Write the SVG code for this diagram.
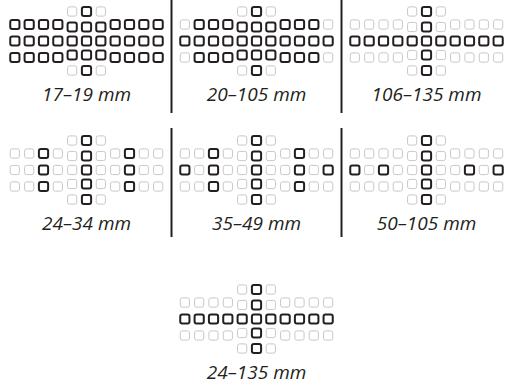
<svg xmlns="http://www.w3.org/2000/svg" width="510" height="385" viewBox="0 0 510 385">
<style>
.d{fill:none;stroke:#231f20;stroke-width:2}
.l{fill:none;stroke:#c8c8c8;stroke-width:1}
.t{font-family:"Open Sans","Liberation Sans",sans-serif;font-style:italic;font-size:19px;fill:#231f20;text-anchor:middle}
.sep{stroke:#231f20;stroke-width:2}
</style>
<defs>
<rect id="c" x="-4.6" y="-4.6" width="9.2" height="9.2" rx="2"/>
</defs>
<rect width="510" height="385" fill="#fff"/>
<g id="connectors">
<line class="sep" x1="171.5" y1="0" x2="171.5" y2="113"/>
<line class="sep" x1="341.5" y1="0" x2="341.5" y2="113"/>
<line class="sep" x1="171.5" y1="128" x2="171.5" y2="237"/>
<line class="sep" x1="341.5" y1="128" x2="341.5" y2="237"/>
</g>
<g id="p17-19" transform="translate(86.5,41)">
<use href="#c" class="l" x="-14.33" y="-29.5"/><use href="#c" class="d" x="0" y="-29.5"/><use href="#c" class="l" x="14.33" y="-29.5"/>
<use href="#c" class="d" x="-71.65" y="-16.5"/><use href="#c" class="d" x="-57.32" y="-16.5"/><use href="#c" class="d" x="-42.99" y="-16.5"/><use href="#c" class="d" x="-28.66" y="-16.5"/><use href="#c" class="d" x="-14.33" y="-14"/><use href="#c" class="d" x="0" y="-14"/><use href="#c" class="d" x="14.33" y="-14"/><use href="#c" class="d" x="28.66" y="-16.5"/><use href="#c" class="d" x="42.99" y="-16.5"/><use href="#c" class="d" x="57.32" y="-16.5"/><use href="#c" class="d" x="71.65" y="-16.5"/>
<use href="#c" class="d" x="-71.65" y="0"/><use href="#c" class="d" x="-57.32" y="0"/><use href="#c" class="d" x="-42.99" y="0"/><use href="#c" class="d" x="-28.66" y="0"/><use href="#c" class="d" x="-14.33" y="0"/><use href="#c" class="d" x="0" y="0"/><use href="#c" class="d" x="14.33" y="0"/><use href="#c" class="d" x="28.66" y="0"/><use href="#c" class="d" x="42.99" y="0"/><use href="#c" class="d" x="57.32" y="0"/><use href="#c" class="d" x="71.65" y="0"/>
<use href="#c" class="d" x="-71.65" y="16.5"/><use href="#c" class="d" x="-57.32" y="16.5"/><use href="#c" class="d" x="-42.99" y="16.5"/><use href="#c" class="d" x="-28.66" y="16.5"/><use href="#c" class="d" x="-14.33" y="14"/><use href="#c" class="d" x="0" y="14"/><use href="#c" class="d" x="14.33" y="14"/><use href="#c" class="d" x="28.66" y="16.5"/><use href="#c" class="d" x="42.99" y="16.5"/><use href="#c" class="d" x="57.32" y="16.5"/><use href="#c" class="d" x="71.65" y="16.5"/>
<use href="#c" class="l" x="-14.33" y="29.5"/><use href="#c" class="d" x="0" y="29.5"/><use href="#c" class="l" x="14.33" y="29.5"/>
<text class="t" x="0" y="60">17–19 mm</text>
</g>
<g id="p20-105" transform="translate(256.5,41)">
<use href="#c" class="l" x="-14.33" y="-29.5"/><use href="#c" class="d" x="0" y="-29.5"/><use href="#c" class="l" x="14.33" y="-29.5"/>
<use href="#c" class="l" x="-71.65" y="-16.5"/><use href="#c" class="d" x="-57.32" y="-16.5"/><use href="#c" class="d" x="-42.99" y="-16.5"/><use href="#c" class="d" x="-28.66" y="-16.5"/><use href="#c" class="d" x="-14.33" y="-14"/><use href="#c" class="d" x="0" y="-14"/><use href="#c" class="d" x="14.33" y="-14"/><use href="#c" class="d" x="28.66" y="-16.5"/><use href="#c" class="d" x="42.99" y="-16.5"/><use href="#c" class="d" x="57.32" y="-16.5"/><use href="#c" class="l" x="71.65" y="-16.5"/>
<use href="#c" class="d" x="-71.65" y="0"/><use href="#c" class="d" x="-57.32" y="0"/><use href="#c" class="d" x="-42.99" y="0"/><use href="#c" class="d" x="-28.66" y="0"/><use href="#c" class="d" x="-14.33" y="0"/><use href="#c" class="d" x="0" y="0"/><use href="#c" class="d" x="14.33" y="0"/><use href="#c" class="d" x="28.66" y="0"/><use href="#c" class="d" x="42.99" y="0"/><use href="#c" class="d" x="57.32" y="0"/><use href="#c" class="d" x="71.65" y="0"/>
<use href="#c" class="l" x="-71.65" y="16.5"/><use href="#c" class="d" x="-57.32" y="16.5"/><use href="#c" class="d" x="-42.99" y="16.5"/><use href="#c" class="d" x="-28.66" y="16.5"/><use href="#c" class="d" x="-14.33" y="14"/><use href="#c" class="d" x="0" y="14"/><use href="#c" class="d" x="14.33" y="14"/><use href="#c" class="d" x="28.66" y="16.5"/><use href="#c" class="d" x="42.99" y="16.5"/><use href="#c" class="d" x="57.32" y="16.5"/><use href="#c" class="l" x="71.65" y="16.5"/>
<use href="#c" class="l" x="-14.33" y="29.5"/><use href="#c" class="d" x="0" y="29.5"/><use href="#c" class="l" x="14.33" y="29.5"/>
<text class="t" x="0" y="60">20–105 mm</text>
</g>
<g id="p106-135" transform="translate(426.5,41)">
<use href="#c" class="l" x="-14.33" y="-29.5"/><use href="#c" class="d" x="0" y="-29.5"/><use href="#c" class="l" x="14.33" y="-29.5"/>
<use href="#c" class="l" x="-71.65" y="-16.5"/><use href="#c" class="l" x="-57.32" y="-16.5"/><use href="#c" class="l" x="-42.99" y="-16.5"/><use href="#c" class="l" x="-28.66" y="-16.5"/><use href="#c" class="l" x="-14.33" y="-14"/><use href="#c" class="d" x="0" y="-14"/><use href="#c" class="l" x="14.33" y="-14"/><use href="#c" class="l" x="28.66" y="-16.5"/><use href="#c" class="l" x="42.99" y="-16.5"/><use href="#c" class="l" x="57.32" y="-16.5"/><use href="#c" class="l" x="71.65" y="-16.5"/>
<use href="#c" class="d" x="-71.65" y="0"/><use href="#c" class="d" x="-57.32" y="0"/><use href="#c" class="d" x="-42.99" y="0"/><use href="#c" class="d" x="-28.66" y="0"/><use href="#c" class="d" x="-14.33" y="0"/><use href="#c" class="d" x="0" y="0"/><use href="#c" class="d" x="14.33" y="0"/><use href="#c" class="d" x="28.66" y="0"/><use href="#c" class="d" x="42.99" y="0"/><use href="#c" class="d" x="57.32" y="0"/><use href="#c" class="d" x="71.65" y="0"/>
<use href="#c" class="l" x="-71.65" y="16.5"/><use href="#c" class="l" x="-57.32" y="16.5"/><use href="#c" class="l" x="-42.99" y="16.5"/><use href="#c" class="l" x="-28.66" y="16.5"/><use href="#c" class="l" x="-14.33" y="14"/><use href="#c" class="d" x="0" y="14"/><use href="#c" class="l" x="14.33" y="14"/><use href="#c" class="l" x="28.66" y="16.5"/><use href="#c" class="l" x="42.99" y="16.5"/><use href="#c" class="l" x="57.32" y="16.5"/><use href="#c" class="l" x="71.65" y="16.5"/>
<use href="#c" class="l" x="-14.33" y="29.5"/><use href="#c" class="d" x="0" y="29.5"/><use href="#c" class="l" x="14.33" y="29.5"/>
<text class="t" x="0" y="60">106–135 mm</text>
</g>
<g id="p24-34" transform="translate(86.5,170)">
<use href="#c" class="l" x="-14.33" y="-29.5"/><use href="#c" class="d" x="0" y="-29.5"/><use href="#c" class="l" x="14.33" y="-29.5"/>
<use href="#c" class="l" x="-71.65" y="-16.5"/><use href="#c" class="l" x="-57.32" y="-16.5"/><use href="#c" class="d" x="-42.99" y="-16.5"/><use href="#c" class="l" x="-28.66" y="-16.5"/><use href="#c" class="l" x="-14.33" y="-14"/><use href="#c" class="d" x="0" y="-14"/><use href="#c" class="l" x="14.33" y="-14"/><use href="#c" class="l" x="28.66" y="-16.5"/><use href="#c" class="d" x="42.99" y="-16.5"/><use href="#c" class="l" x="57.32" y="-16.5"/><use href="#c" class="l" x="71.65" y="-16.5"/>
<use href="#c" class="l" x="-71.65" y="0"/><use href="#c" class="l" x="-57.32" y="0"/><use href="#c" class="d" x="-42.99" y="0"/><use href="#c" class="l" x="-28.66" y="0"/><use href="#c" class="l" x="-14.33" y="0"/><use href="#c" class="d" x="0" y="0"/><use href="#c" class="l" x="14.33" y="0"/><use href="#c" class="l" x="28.66" y="0"/><use href="#c" class="d" x="42.99" y="0"/><use href="#c" class="l" x="57.32" y="0"/><use href="#c" class="l" x="71.65" y="0"/>
<use href="#c" class="l" x="-71.65" y="16.5"/><use href="#c" class="l" x="-57.32" y="16.5"/><use href="#c" class="d" x="-42.99" y="16.5"/><use href="#c" class="l" x="-28.66" y="16.5"/><use href="#c" class="l" x="-14.33" y="14"/><use href="#c" class="d" x="0" y="14"/><use href="#c" class="l" x="14.33" y="14"/><use href="#c" class="l" x="28.66" y="16.5"/><use href="#c" class="d" x="42.99" y="16.5"/><use href="#c" class="l" x="57.32" y="16.5"/><use href="#c" class="l" x="71.65" y="16.5"/>
<use href="#c" class="l" x="-14.33" y="29.5"/><use href="#c" class="d" x="0" y="29.5"/><use href="#c" class="l" x="14.33" y="29.5"/>
<text class="t" x="0" y="60">24–34 mm</text>
</g>
<g id="p35-49" transform="translate(256.5,170)">
<use href="#c" class="l" x="-14.33" y="-29.5"/><use href="#c" class="d" x="0" y="-29.5"/><use href="#c" class="l" x="14.33" y="-29.5"/>
<use href="#c" class="l" x="-71.65" y="-16.5"/><use href="#c" class="l" x="-57.32" y="-16.5"/><use href="#c" class="d" x="-42.99" y="-16.5"/><use href="#c" class="l" x="-28.66" y="-16.5"/><use href="#c" class="l" x="-14.33" y="-14"/><use href="#c" class="d" x="0" y="-14"/><use href="#c" class="l" x="14.33" y="-14"/><use href="#c" class="l" x="28.66" y="-16.5"/><use href="#c" class="d" x="42.99" y="-16.5"/><use href="#c" class="l" x="57.32" y="-16.5"/><use href="#c" class="l" x="71.65" y="-16.5"/>
<use href="#c" class="d" x="-71.65" y="0"/><use href="#c" class="l" x="-57.32" y="0"/><use href="#c" class="d" x="-42.99" y="0"/><use href="#c" class="l" x="-28.66" y="0"/><use href="#c" class="l" x="-14.33" y="0"/><use href="#c" class="d" x="0" y="0"/><use href="#c" class="l" x="14.33" y="0"/><use href="#c" class="l" x="28.66" y="0"/><use href="#c" class="d" x="42.99" y="0"/><use href="#c" class="l" x="57.32" y="0"/><use href="#c" class="d" x="71.65" y="0"/>
<use href="#c" class="l" x="-71.65" y="16.5"/><use href="#c" class="l" x="-57.32" y="16.5"/><use href="#c" class="d" x="-42.99" y="16.5"/><use href="#c" class="l" x="-28.66" y="16.5"/><use href="#c" class="l" x="-14.33" y="14"/><use href="#c" class="d" x="0" y="14"/><use href="#c" class="l" x="14.33" y="14"/><use href="#c" class="l" x="28.66" y="16.5"/><use href="#c" class="d" x="42.99" y="16.5"/><use href="#c" class="l" x="57.32" y="16.5"/><use href="#c" class="l" x="71.65" y="16.5"/>
<use href="#c" class="l" x="-14.33" y="29.5"/><use href="#c" class="d" x="0" y="29.5"/><use href="#c" class="l" x="14.33" y="29.5"/>
<text class="t" x="0" y="60">35–49 mm</text>
</g>
<g id="p50-105" transform="translate(426.5,170)">
<use href="#c" class="l" x="-14.33" y="-29.5"/><use href="#c" class="d" x="0" y="-29.5"/><use href="#c" class="l" x="14.33" y="-29.5"/>
<use href="#c" class="l" x="-71.65" y="-16.5"/><use href="#c" class="l" x="-57.32" y="-16.5"/><use href="#c" class="l" x="-42.99" y="-16.5"/><use href="#c" class="l" x="-28.66" y="-16.5"/><use href="#c" class="l" x="-14.33" y="-14"/><use href="#c" class="d" x="0" y="-14"/><use href="#c" class="l" x="14.33" y="-14"/><use href="#c" class="l" x="28.66" y="-16.5"/><use href="#c" class="l" x="42.99" y="-16.5"/><use href="#c" class="l" x="57.32" y="-16.5"/><use href="#c" class="l" x="71.65" y="-16.5"/>
<use href="#c" class="d" x="-71.65" y="0"/><use href="#c" class="l" x="-57.32" y="0"/><use href="#c" class="d" x="-42.99" y="0"/><use href="#c" class="l" x="-28.66" y="0"/><use href="#c" class="l" x="-14.33" y="0"/><use href="#c" class="d" x="0" y="0"/><use href="#c" class="l" x="14.33" y="0"/><use href="#c" class="l" x="28.66" y="0"/><use href="#c" class="d" x="42.99" y="0"/><use href="#c" class="l" x="57.32" y="0"/><use href="#c" class="d" x="71.65" y="0"/>
<use href="#c" class="l" x="-71.65" y="16.5"/><use href="#c" class="l" x="-57.32" y="16.5"/><use href="#c" class="l" x="-42.99" y="16.5"/><use href="#c" class="l" x="-28.66" y="16.5"/><use href="#c" class="l" x="-14.33" y="14"/><use href="#c" class="d" x="0" y="14"/><use href="#c" class="l" x="14.33" y="14"/><use href="#c" class="l" x="28.66" y="16.5"/><use href="#c" class="l" x="42.99" y="16.5"/><use href="#c" class="l" x="57.32" y="16.5"/><use href="#c" class="l" x="71.65" y="16.5"/>
<use href="#c" class="l" x="-14.33" y="29.5"/><use href="#c" class="d" x="0" y="29.5"/><use href="#c" class="l" x="14.33" y="29.5"/>
<text class="t" x="0" y="60">50–105 mm</text>
</g>
<g id="p24-135" transform="translate(256.5,319)">
<use href="#c" class="l" x="-14.33" y="-29.5"/><use href="#c" class="d" x="0" y="-29.5"/><use href="#c" class="l" x="14.33" y="-29.5"/>
<use href="#c" class="l" x="-71.65" y="-16.5"/><use href="#c" class="l" x="-57.32" y="-16.5"/><use href="#c" class="l" x="-42.99" y="-16.5"/><use href="#c" class="l" x="-28.66" y="-16.5"/><use href="#c" class="l" x="-14.33" y="-14"/><use href="#c" class="d" x="0" y="-14"/><use href="#c" class="l" x="14.33" y="-14"/><use href="#c" class="l" x="28.66" y="-16.5"/><use href="#c" class="l" x="42.99" y="-16.5"/><use href="#c" class="l" x="57.32" y="-16.5"/><use href="#c" class="l" x="71.65" y="-16.5"/>
<use href="#c" class="d" x="-71.65" y="0"/><use href="#c" class="d" x="-57.32" y="0"/><use href="#c" class="d" x="-42.99" y="0"/><use href="#c" class="d" x="-28.66" y="0"/><use href="#c" class="d" x="-14.33" y="0"/><use href="#c" class="d" x="0" y="0"/><use href="#c" class="d" x="14.33" y="0"/><use href="#c" class="d" x="28.66" y="0"/><use href="#c" class="d" x="42.99" y="0"/><use href="#c" class="d" x="57.32" y="0"/><use href="#c" class="d" x="71.65" y="0"/>
<use href="#c" class="l" x="-71.65" y="16.5"/><use href="#c" class="l" x="-57.32" y="16.5"/><use href="#c" class="l" x="-42.99" y="16.5"/><use href="#c" class="l" x="-28.66" y="16.5"/><use href="#c" class="l" x="-14.33" y="14"/><use href="#c" class="d" x="0" y="14"/><use href="#c" class="l" x="14.33" y="14"/><use href="#c" class="l" x="28.66" y="16.5"/><use href="#c" class="l" x="42.99" y="16.5"/><use href="#c" class="l" x="57.32" y="16.5"/><use href="#c" class="l" x="71.65" y="16.5"/>
<use href="#c" class="l" x="-14.33" y="29.5"/><use href="#c" class="d" x="0" y="29.5"/><use href="#c" class="l" x="14.33" y="29.5"/>
<text class="t" x="0" y="60">24–135 mm</text>
</g>
</svg>
